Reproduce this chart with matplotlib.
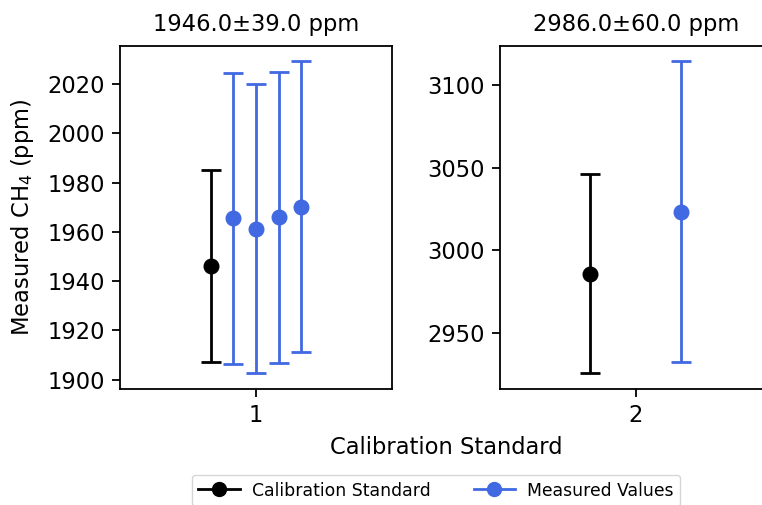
import matplotlib
matplotlib.use("Agg")
import matplotlib.pyplot as plt
from matplotlib.lines import Line2D

# Daten
std_labels = [1, 2]
std_x = [0.8, 1.8]
std_val = [1946.0, 2986.0]
std_err = [39.0, 60.0]

meas_x = [[0.9, 1.0, 1.1, 1.2], [2.2]]
meas_val = [[1965.5, 1961.3, 1965.9, 1970.1], [3023.4]]
meas_err = [[59.0, 58.7, 59.0, 59.1], [90.7]]

blue = "royalblue"
fs = 16.3

plt.rcParams["font.family"] = "DejaVu Sans"
plt.rcParams["axes.linewidth"] = 1.3

fig = plt.figure(figsize=(7.62, 5.05), dpi=100)
axes = [fig.add_axes([0.1575, 0.2303, 0.357, 0.679]),
        fig.add_axes([0.6558, 0.2303, 0.357, 0.679])]

for i, ax in enumerate(axes):
    ax.errorbar([std_x[i]], [std_val[i]], yerr=[std_err[i]], fmt="o", color="k",
                ms=10.5, elinewidth=2, capsize=7, capthick=2)
    ax.errorbar(meas_x[i], meas_val[i], yerr=meas_err[i], fmt="o", color=blue,
                ms=10.5, elinewidth=2, capsize=7, capthick=2)
    ax.set_xlim(std_labels[i] - 0.6, std_labels[i] + 0.6)
    ax.set_xticks([std_labels[i]])
    ax.set_title(f"{std_val[i]:.1f}±{std_err[i]:.1f} ppm", fontsize=fs, pad=11)
    ax.tick_params(labelsize=fs, width=1.3, length=6, pad=5)

axes[0].set_ylabel("Measured CH$_4$ (ppm)", fontsize=fs, labelpad=8)
fig.text(446 / 762, 1 - 447 / 505, "Calibration Standard", fontsize=fs,
         ha="center", va="center")

handles = [Line2D([], [], color="k", marker="o", ms=10, lw=2),
           Line2D([], [], color=blue, marker="o", ms=10, lw=2)]
fig.legend(handles, ["Calibration Standard", "Measured Values"], ncol=2,
           loc="upper center", bbox_to_anchor=(436 / 762, 1 - 466 / 505),
           fontsize=12.4, handlelength=2.4, handletextpad=0.7,
           columnspacing=2.5)

fig.savefig("out.png", dpi=100)
